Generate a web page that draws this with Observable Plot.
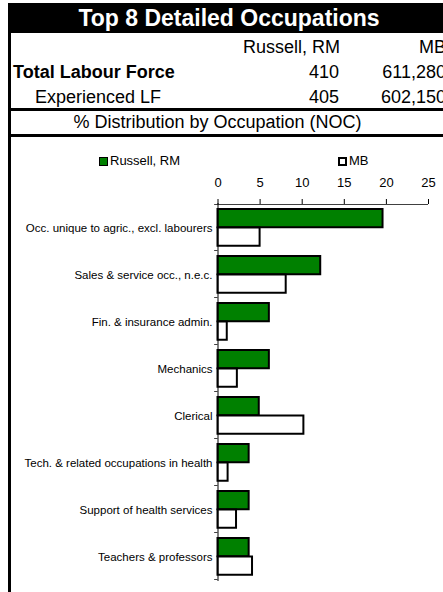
<!DOCTYPE html>
<html><head><meta charset="utf-8">
<script src="https://cdn.jsdelivr.net/npm/d3@7"></script>
<script src="https://cdn.jsdelivr.net/npm/@observablehq/plot@0.6"></script>
<style>
html,body{margin:0;padding:0;background:#fff;}
body{width:443px;height:592px;position:relative;overflow:hidden;font-family:"Liberation Sans",Arial,sans-serif;color:#000;}
.abs{position:absolute;white-space:nowrap;}
</style></head><body>
<script>
const title = "Top 8 Detailed Occupations";
const columnHeads = ["Russell, RM", "MB"];
const rowLabels = ["Total Labour Force", "Experienced LF"];
const russellCounts = ["410", "405"];
const mbCounts = ["611,280", "602,150"];
const sectionTitle = "% Distribution by Occupation (NOC)";
const seriesNames = ["Russell, RM", "MB"];
const seriesColors = ["#008000", "#ffffff"];
const categories = [
  "Occ. unique to agric., excl. labourers",
  "Sales & service occ., n.e.c.",
  "Fin. & insurance admin.",
  "Mechanics",
  "Clerical",
  "Tech. & related occupations in health",
  "Support of health services",
  "Teachers & professors"
];
const russell = [19.6, 12.2, 6.1, 6.1, 4.9, 3.7, 3.7, 3.7];
const mb = [5.0, 8.1, 1.1, 2.3, 10.2, 1.2, 2.2, 4.1];
const xTicks = [0, 5, 10, 15, 20, 25];

function el(style, text) {
  const d = document.createElement("div");
  d.className = "abs";
  d.style.cssText = style;
  if (text != null) d.textContent = text;
  document.body.appendChild(d);
  return d;
}

// header table
el("left:8px;top:3px;width:440px;height:30px;background:#000;");
el("left:0;width:458px;top:4px;height:29px;line-height:29px;text-align:center;color:#fff;font-weight:bold;font-size:23px;", title);
el("left:8px;top:33px;width:3px;height:560px;background:#000;");
el("left:8px;top:108px;width:440px;height:3px;background:#000;");
el("left:8px;top:134px;width:440px;height:3px;background:#000;");
el("right:103px;top:35px;height:24px;line-height:24px;font-size:18px;text-align:right;", columnHeads[0]);
el("right:-3px;top:35px;height:24px;line-height:24px;font-size:18px;text-align:right;", columnHeads[1]);
const rowCenters = [72, 97];
rowLabels.forEach((lab, i) => {
  const top = rowCenters[i] - 12;
  el(`left:${i === 0 ? 13 : 35}px;top:${top}px;height:24px;line-height:24px;font-size:18px;${i === 0 ? "font-weight:bold;" : ""}`, lab);
  el(`right:104px;top:${top}px;height:24px;line-height:24px;font-size:18px;text-align:right;`, russellCounts[i]);
  el(`right:-3px;top:${top}px;height:24px;line-height:24px;font-size:18px;text-align:right;`, mbCounts[i]);
});
el("left:0;width:435px;top:110px;height:24px;line-height:24px;font-size:18px;text-align:center;", sectionTitle);

// legend
const legendX = [99, 338];
seriesNames.forEach((s, i) => {
  el(`left:${legendX[i]}px;top:157px;width:9px;height:9px;box-sizing:border-box;background:${seriesColors[i]};border:${i === 0 ? 1 : 2}px solid #000;`);
  el(`left:${legendX[i] + 11}px;top:153px;height:16px;line-height:16px;font-size:13px;`, s);
});

// chart
const data = categories.flatMap((c, i) => [
  {cat: c, series: seriesNames[0], value: russell[i]},
  {cat: c, series: seriesNames[1], value: mb[i]}
]);
const bw = 47.25;
const chart = Plot.plot({
  width: 443, height: 455,
  marginTop: 66, marginBottom: 11, marginLeft: 217.5, marginRight: 15,
  style: {fontFamily: '"Liberation Sans",Arial,sans-serif', background: "transparent", color: "#000", overflow: "visible"},
  x: {domain: [0, 25], axis: null},
  y: {domain: categories, padding: 0, axis: null},
  marks: [
    Plot.barX(data.filter(d => d.series === seriesNames[0]), {x: "value", y: "cat", fill: seriesColors[0], stroke: "#000", strokeWidth: 2, insetTop: 5, insetBottom: 23.75}),
    Plot.barX(data.filter(d => d.series === seriesNames[1]), {x: "value", y: "cat", fill: seriesColors[1], stroke: "#000", strokeWidth: 2, insetTop: 23.5, insetBottom: 5.25}),
    Plot.ruleX([0], {stroke: "#000", strokeWidth: 1}),
    // top axis line (1px strip at the top of the first band)
    Plot.barX([categories[0]], {y: d => d, x1: -0.4, x2: 25, fill: "#000", insetBottom: bw - 1}),
    // category boundary ticks (1px strip at the bottom of each band)
    Plot.barX(categories, {y: d => d, x1: -0.4, x2: 0, fill: "#000", insetTop: bw - 1}),
    Plot.axisX(xTicks, {anchor: "top", label: null, tickSize: 5, tickPadding: 12, fontSize: 13, stroke: "#000"}),
    Plot.axisY(categories, {anchor: "left", label: null, tickSize: 0, tickPadding: 5.5, fontSize: 11.5})
  ]
});
chart.style.position = "absolute";
chart.style.left = "0px";
chart.style.top = "137px";
document.body.appendChild(chart);
</script>
</body></html>
